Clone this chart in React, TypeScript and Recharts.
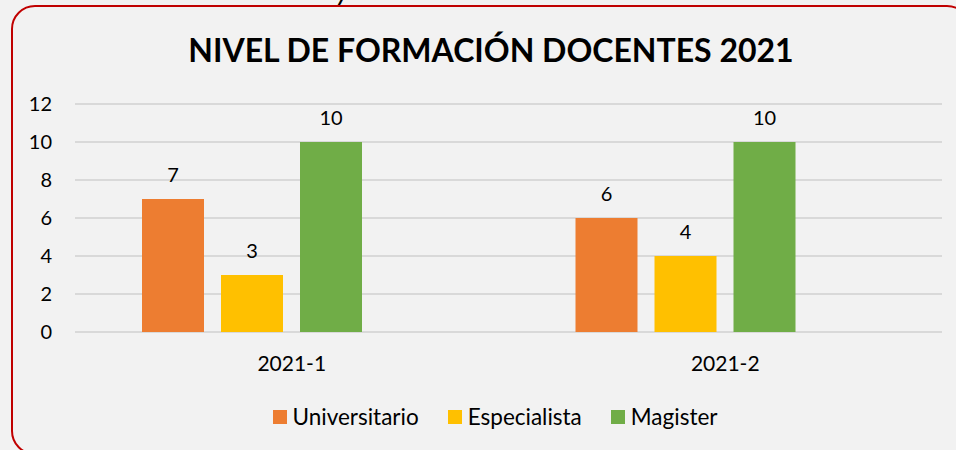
import { BarChart, Bar, XAxis, YAxis, CartesianGrid, LabelList } from 'recharts'

const categories = ['2021-1', '2021-2']
const universitario = [7, 6]
const especialista = [3, 4]
const magister = [10, 10]
// the source chart has an empty fourth series that still takes a slot in each group
const vacio = [null, null]
const yTicks = [0, 2, 4, 6, 8, 10, 12]

const series = [
  { key: 'universitario', name: 'Universitario', color: '#ED7D31' },
  { key: 'especialista', name: 'Especialista', color: '#FFC000' },
  { key: 'magister', name: 'Magister', color: '#70AD47' },
]

const data = categories.map((cat, i) => ({
  cat,
  universitario: universitario[i],
  especialista: especialista[i],
  magister: magister[i],
  vacio: vacio[i],
}))

const FONT = 'Lato, "Open Sans", sans-serif'
const tickStyle = { fill: '#000', fontSize: 20, fontFamily: FONT }

export default function App() {
  return (
    <div
      style={{
        position: 'absolute',
        left: 0,
        top: 0,
        width: 956,
        height: 450,
        overflow: 'hidden',
        background: '#f2f2f2',
        fontFamily: FONT,
      }}
    >
      <div
        style={{
          position: 'absolute',
          left: 336,
          top: -27,
          fontSize: 30,
          fontStyle: 'italic',
          lineHeight: '30px',
          color: '#000',
        }}
      >
        y
      </div>
      <div
        style={{
          position: 'absolute',
          left: 11,
          top: 5,
          width: 960,
          height: 450,
          border: '2px solid #C00000',
          borderRadius: 24,
          boxSizing: 'border-box',
        }}
      />
      <div
        style={{
          position: 'absolute',
          left: 0,
          width: 982,
          top: 34,
          textAlign: 'center',
          fontSize: 32,
          fontWeight: 700,
          lineHeight: '32px',
          color: '#000',
        }}
      >
        NIVEL DE FORMACIÓN DOCENTES 2021
      </div>
      <div style={{ position: 'absolute', left: 0, top: 0 }}>
        <BarChart
          width={956}
          height={450}
          data={data}
          margin={{ top: 104, right: 14, bottom: 0, left: 0 }}
          barGap={17}
        >
          <CartesianGrid stroke="#d9d9d9" strokeWidth={2} vertical={false} />
          <XAxis
            dataKey="cat"
            height={118}
            axisLine={false}
            tickLine={false}
            tickSize={0}
            tickMargin={24}
            tick={{ ...tickStyle, fontSize: 21 }}
          />
          <YAxis
            width={75}
            domain={[0, 12]}
            ticks={yTicks}
            axisLine={false}
            tickLine={false}
            tickSize={0}
            tickMargin={23}
            tick={tickStyle}
          />
          {series.map((s) => (
            <Bar key={s.key} dataKey={s.key} name={s.name} fill={s.color} barSize={62} isAnimationActive={false}>
              <LabelList dataKey={s.key} position="top" offset={17} fill="#000" fontSize={20} fontFamily={FONT} />
            </Bar>
          ))}
          <Bar dataKey="vacio" barSize={62} fill="transparent" legendType="none" isAnimationActive={false} />
        </BarChart>
      </div>
      <div
        style={{
          position: 'absolute',
          left: 0,
          width: 990,
          top: 404,
          display: 'flex',
          justifyContent: 'center',
          alignItems: 'center',
          gap: 29,
          fontSize: 22.5,
          lineHeight: '26px',
          color: '#000',
        }}
      >
        {series.map((s) => (
          <div key={s.key} style={{ display: 'flex', alignItems: 'center' }}>
            <span style={{ width: 14, height: 14, background: s.color, marginRight: 6, display: 'inline-block' }} />
            <span>{s.name}</span>
          </div>
        ))}
      </div>
    </div>
  )
}
